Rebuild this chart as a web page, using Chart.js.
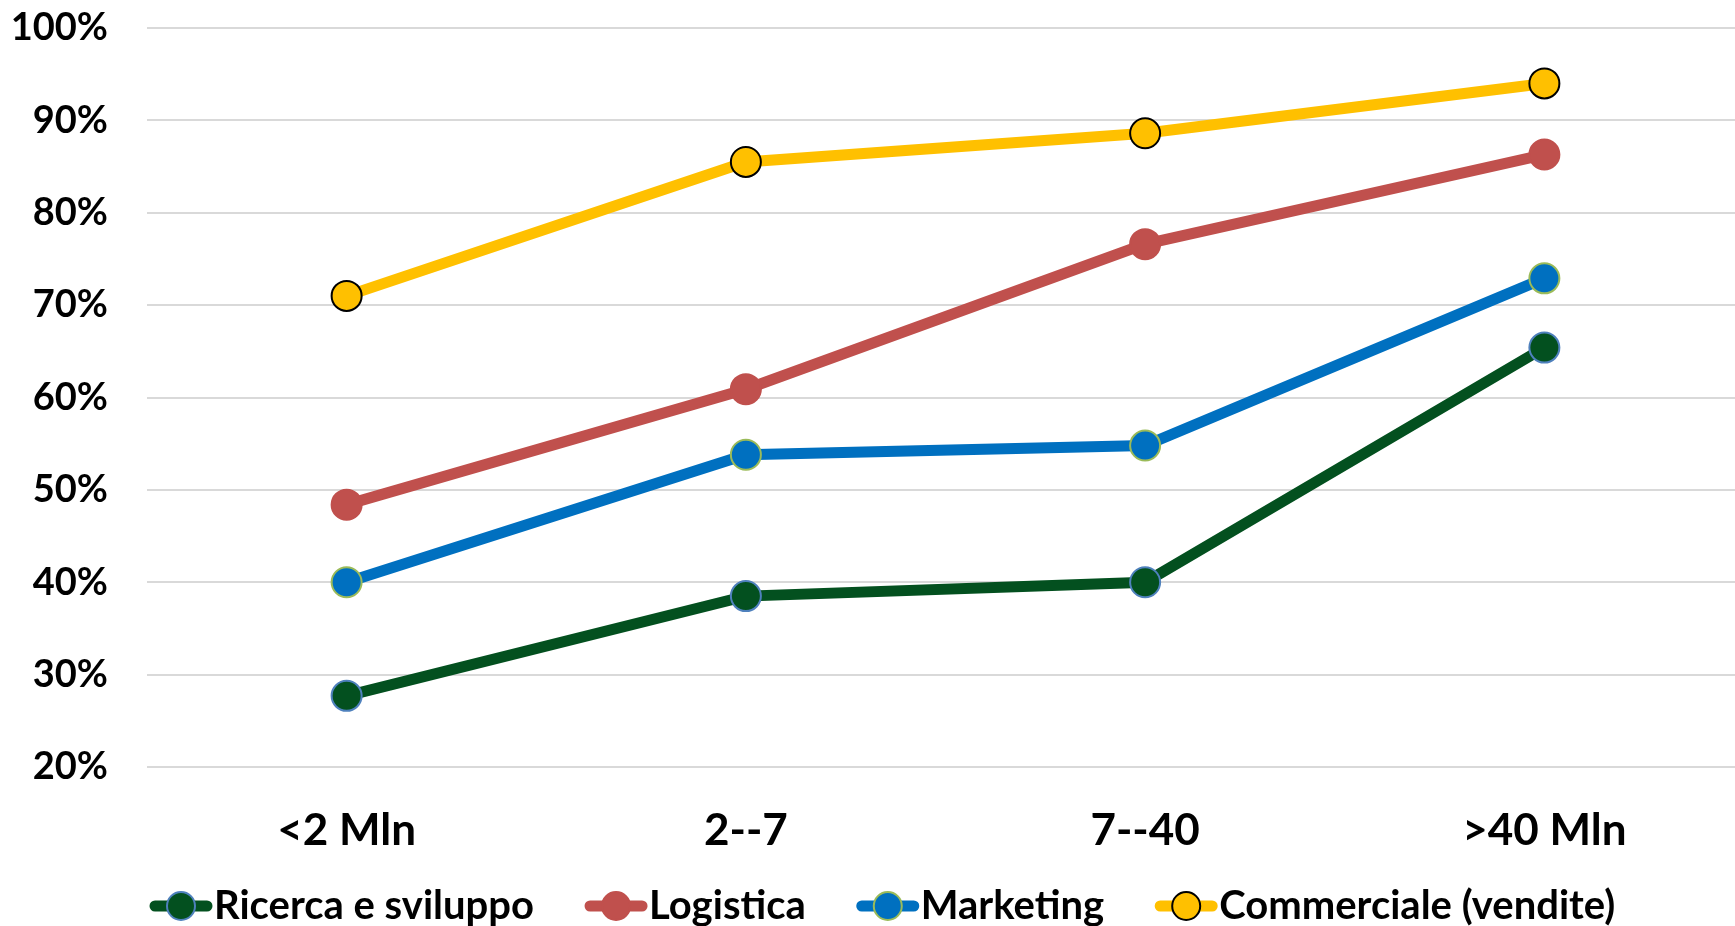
<!DOCTYPE html>
<html>
<head>
<meta charset="utf-8">
<script src="https://cdn.jsdelivr.net/npm/chart.js@4/dist/chart.umd.min.js"></script>
<style>
  html, body { margin: 0; padding: 0; background: #fff; overflow: hidden; }
  #wrap { width: 1761px; height: 926px; }
</style>
</head>
<body>
<div id="wrap"><canvas id="line-chart" width="1761" height="926"></canvas></div>
<script>
var categories = ['<2 Mln', '2--7', '7--40', '>40 Mln'];
var seriesNames = ['Ricerca e sviluppo', 'Logistica', 'Marketing', 'Commerciale (vendite)'];
var ricerca = [27.7, 38.5, 40.0, 65.4];
var logistica = [48.4, 60.9, 76.6, 86.3];
var marketing = [40.0, 53.8, 54.8, 72.9];
var commerciale = [71.0, 85.5, 88.6, 94.0];
var yTicks = [20, 30, 40, 50, 60, 70, 80, 90, 100];

var lineColors = ['#03501F', '#C0504D', '#0070C0', '#FFC000'];
var markerBorders = ['#4F81BD', '#C0504D', '#9BBB59', '#000000'];
var FONT = 'Lato';

function makeSet(i, values) {
    return {
        label: seriesNames[i],
        data: values,
        borderColor: lineColors[i],
        backgroundColor: lineColors[i],
        borderWidth: 11,
        pointRadius: 15,
        pointHoverRadius: 15,
        pointBorderWidth: 2,
        pointBackgroundColor: lineColors[i],
        pointBorderColor: markerBorders[i],
        tension: 0,
        order: 4 - i
    };
}

// legend: short thick line with a marker, label right after it
var lineLegend = {
    id: 'lineLegend',
    afterDraw: function (chart) {
        var ctx = chart.ctx;
        var y = 906;
        var x = 150;
        ctx.save();
        ctx.font = 'bold 40px ' + FONT;
        ctx.textBaseline = 'middle';
        ctx.textAlign = 'left';
        chart.data.datasets.forEach(function (ds) {
            ctx.lineCap = 'round';
            ctx.strokeStyle = ds.borderColor;
            ctx.lineWidth = 11;
            ctx.beginPath();
            ctx.moveTo(x + 5, y);
            ctx.lineTo(x + 57, y);
            ctx.stroke();
            ctx.beginPath();
            ctx.arc(x + 31, y, 14, 0, Math.PI * 2);
            ctx.fillStyle = ds.pointBackgroundColor;
            ctx.fill();
            ctx.lineWidth = 2;
            ctx.strokeStyle = ds.pointBorderColor;
            ctx.stroke();
            ctx.fillStyle = '#000';
            ctx.fillText(ds.label, x + 64, y);
            x += 64 + ctx.measureText(ds.label).width + 51;
        });
        ctx.restore();
    }
};

function draw() {
    new Chart(document.getElementById('line-chart'), {
        type: 'line',
        data: {
            labels: categories,
            datasets: [
                makeSet(0, ricerca),
                makeSet(1, logistica),
                makeSet(2, marketing),
                makeSet(3, commerciale)
            ]
        },
        options: {
            responsive: false,
            animation: false,
            devicePixelRatio: 1,
            layout: { padding: { top: 28, left: 0, right: 0, bottom: 0 } },
            plugins: {
                legend: { display: false },
                tooltip: { enabled: false }
            },
            scales: {
                x: {
                    offset: true,
                    grid: { display: false, drawTicks: false },
                    border: { display: false },
                    ticks: {
                        color: '#000',
                        padding: 37,
                        font: { family: FONT, size: 44, weight: 'bold' }
                    },
                    afterFit: function (scale) {
                        scale.height = 159;
                        scale.paddingLeft = 0;
                        scale.paddingRight = 0;
                    }
                },
                y: {
                    min: 20,
                    max: 100,
                    afterBuildTicks: function (scale) {
                        scale.ticks = yTicks.map(function (v) { return { value: v }; });
                    },
                    grid: { color: '#D9D9D9', lineWidth: 2, drawTicks: false },
                    border: { display: false },
                    ticks: {
                        color: '#000',
                        padding: 39,
                        font: { family: FONT, size: 38, weight: 'bold' },
                        callback: function (v) { return v + '%'; }
                    },
                    afterFit: function (scale) {
                        scale.width = 147;
                        scale.paddingTop = 0;
                        scale.paddingBottom = 0;
                    }
                }
            }
        },
        plugins: [lineLegend]
    });
}

document.fonts.load('bold 36px ' + FONT).then(draw, draw);
</script>
</body>
</html>
